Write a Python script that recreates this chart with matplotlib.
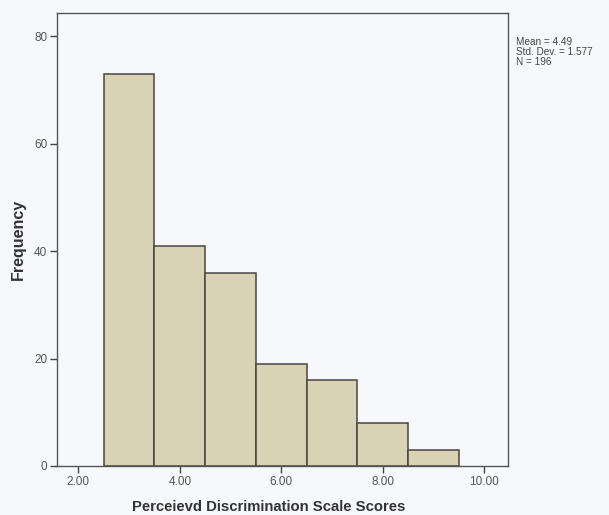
import matplotlib
matplotlib.use("Agg")
import matplotlib.pyplot as plt

# histogram bins (centres), counts and axis ticks
bin_centers = [3, 4, 5, 6, 7, 8, 9]
counts = [73, 41, 36, 19, 16, 8, 3]
x_ticks = [2, 4, 6, 8, 10]
y_ticks = [0, 20, 40, 60, 80]
stats_lines = ["Mean = 4.49", "Std. Dev. = 1.577", "N = 196"]

plt.rcParams["font.family"] = ["Liberation Sans", "DejaVu Sans"]

bg = "#f7f8fb"
fig = plt.figure(figsize=(6.09, 5.15), dpi=100, facecolor=bg)
ax = fig.add_axes([57 / 609, 49 / 515, 451 / 609, 453 / 515], facecolor=bg)

ax.bar(bin_centers, counts, width=1.0, color="#d9d2b4", edgecolor="#4a4542", linewidth=1.1)

ax.set_xlim(1.58, 10.47)
ax.set_ylim(0, 84.3)
ax.set_xticks(x_ticks)
ax.set_xticklabels([f"{t:.2f}" for t in x_ticks])
ax.set_yticks(y_ticks)
ax.tick_params(axis="both", labelsize=8.5, labelcolor="#555555", color="#444444",
               length=5, width=1, pad=2)
for s in ax.spines.values():
    s.set_color("#555555")
    s.set_linewidth(1)

ax.set_xlabel("Perceievd Discrimination Scale Scores", fontsize=10.7, fontweight="bold",
              color="#333333")
ax.xaxis.set_label_coords(0.47, -0.075)
ax.set_ylabel("Frequency", fontsize=11.5, fontweight="bold", color="#333333")
ax.yaxis.set_label_coords(-0.068, 0.50)

fig.text(516 / 609, 1 - 37 / 515, "\n".join(stats_lines), fontsize=7.2, color="#444444",
         va="top", ha="left", linespacing=1.0)

fig.savefig("out.png", dpi=100, facecolor=bg)
